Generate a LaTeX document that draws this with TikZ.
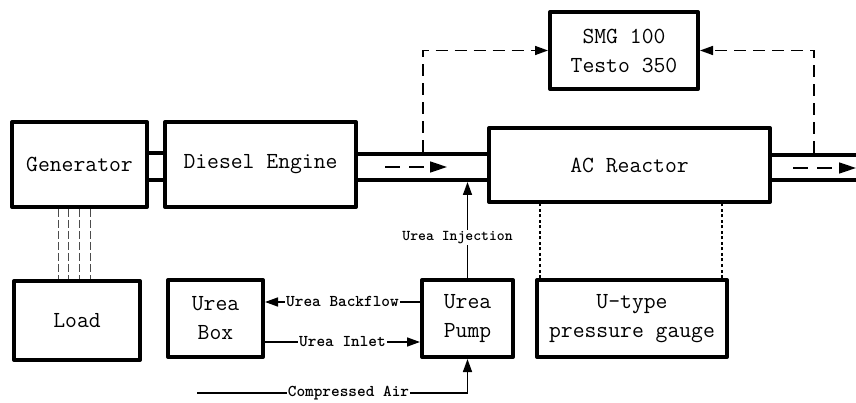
\documentclass[tikz,border=0pt]{standalone}
\usepackage{tikz}
\usetikzlibrary{arrows.meta}

\newcommand{\boxfont}{\ttfamily\fontsize{23}{29}\selectfont}
\newcommand{\tagfont}{\ttfamily\bfseries\fontsize{16.5}{18}\selectfont}

\begin{document}
\begin{tikzpicture}[x=1pt,y=-1pt,>={Triangle[length=13pt,width=9pt]},
  unit/.style={draw,line width=4pt,line join=round,inner sep=0pt,align=center,font=\boxfont},
  pipe/.style={line width=4pt},
  gas/.style={line width=1.5pt,dash pattern=on 15pt off 9pt,-{Triangle[length=17pt,width=11pt]}},
  sample/.style={line width=1.5pt,dash pattern=on 12pt off 7pt},
  feed/.style={line width=1.5pt},
  wire/.style={line width=1pt,black!70,dash pattern=on 8pt off 3pt},
  probe/.style={line width=2pt,dash pattern=on 3pt off 2.5pt},
  tag/.style={fill=white,inner sep=1pt,font=\tagfont}]

  \useasboundingbox (0,0) rectangle (856,403);

  % units
  \node[unit,minimum width=135pt,minimum height=85pt] (gen) at (79.5,164.5) {Generator};
  \node[unit,minimum width=191pt,minimum height=85pt] (diesel) at (260.5,164.5) {Diesel Engine};
  \node[unit,minimum width=281pt,minimum height=74pt] (reactor) at (629.5,165) {AC Reactor};
  \node[unit,minimum width=148pt,minimum height=77pt] (smg) at (624,50.5) {SMG 100\\Testo 350};
  \node[unit,minimum width=126pt,minimum height=79pt] (load) at (77,320.5) {Load};
  \node[unit,minimum width=95pt,minimum height=77pt] (ubox) at (215.5,318.5) {Urea\\Box};
  \node[unit,minimum width=91pt,minimum height=77pt] (pump) at (467.5,318.5) {Urea\\Pump};
  \node[unit,minimum width=190pt,minimum height=77pt] (gauge) at (632,318.5) {U-type\\pressure gauge};

  \coordinate (tap1) at (423,152);
  \coordinate (tap2) at (814,153);
  \coordinate (exhaust) at (856,167);
  \coordinate (inj) at (467.5,182);
  \coordinate (air) at (197,393);

  % shaft and exhaust pipes
  \draw[pipe] (gen.east |- 0,153) -- (diesel.west |- 0,153);
  \draw[pipe] (gen.east |- 0,180) -- (diesel.west |- 0,180);
  \draw[pipe] (diesel.east |- 0,154) -- (reactor.west |- 0,154);
  \draw[pipe] (diesel.east |- 0,180) -- (reactor.west |- 0,180);
  \draw[pipe] (reactor.east |- 0,155) -- (exhaust |- 0,155);
  \draw[pipe] (reactor.east |- 0,180) -- (exhaust |- 0,180);

  % gas flow
  \draw[gas] ([xshift=27pt]diesel.east |- 0,167) -- ++(62,0);
  \draw[gas] ([xshift=21pt]reactor.east |- 0,168) -- (exhaust |- 0,168);

  % sampling lines
  \draw[sample,->] (tap1) |- (smg.west);
  \draw[sample,->] (tap2) |- (smg.east);

  % urea system
  \draw[feed,->] (pump.north) -- node[tag,pos=0.42,xshift=-10pt,font=\ttfamily\bfseries\fontsize{15}{17}\selectfont] {Urea Injection} (inj);
  \draw[feed,->] ([yshift=16.5pt]pump.west) -- node[tag] {Urea Backflow} ([yshift=16.5pt]pump.west -| ubox.east);
  \draw[feed,->] ([yshift=-23.5pt]ubox.east) -- node[tag] {Urea Inlet} ([yshift=-23.5pt]ubox.east -| pump.west);
  \draw[feed,->] (air) -| node[tag,pos=0.28] {Compressed Air} (pump.south);

  % generator to load
  \foreach \x in {58,68,79,90}
    \draw[wire] (gen.south -| \x,0) -- (load.north -| \x,0);

  % pressure taps
  \draw[probe] ([xshift=5pt]gauge.north west) -- ([xshift=5pt]gauge.north west |- reactor.south);
  \draw[probe] ([xshift=-7pt]gauge.north east) -- ([xshift=-7pt]gauge.north east |- reactor.south);
\end{tikzpicture}
\end{document}
